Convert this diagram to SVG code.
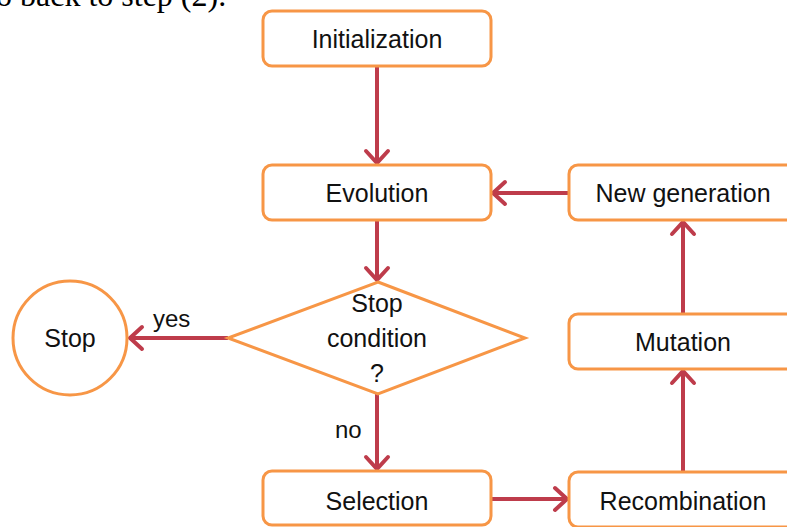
<svg xmlns="http://www.w3.org/2000/svg" width="787" height="527" viewBox="0 0 787 527">
  <style>
    .box { fill: #ffffff; stroke: #F79646; stroke-width: 3; }
    .lbl { font-family: "Liberation Sans", Arial, sans-serif; font-size: 25px; fill: #111111; text-anchor: middle; }
    .note { font-family: "Liberation Sans", Arial, sans-serif; font-size: 24px; fill: #111111; }
    .edge { fill: none; stroke: #BE3C4B; stroke-width: 4; }
    .page { font-family: "Liberation Serif", "Times New Roman", serif; font-size: 32px; fill: #000000; }
  </style>
  <defs>
    <marker id="arrow" markerUnits="userSpaceOnUse" viewBox="-16 -14 20 28" markerWidth="20" markerHeight="28" refX="0" refY="0" orient="auto">
      <path d="M-13,-11 L-1,0 L-13,11" fill="none" stroke="#BE3C4B" stroke-width="4" stroke-linecap="round" stroke-linejoin="miter"/>
    </marker>
  </defs>
  <rect width="787" height="527" fill="#ffffff"/>
  <text class="page" x="-4" y="6">o back to step (2).</text>

  <g id="connectors">
    <line class="edge" x1="377" y1="66" x2="377" y2="164" marker-end="url(#arrow)"/>
    <line class="edge" x1="377" y1="221" x2="377" y2="281" marker-end="url(#arrow)"/>
    <line class="edge" x1="228" y1="338" x2="129" y2="338" marker-end="url(#arrow)"/>
    <line class="edge" x1="377" y1="394" x2="377" y2="470" marker-end="url(#arrow)"/>
    <line class="edge" x1="491" y1="499" x2="568" y2="499" marker-end="url(#arrow)"/>
    <line class="edge" x1="683" y1="472" x2="683" y2="370" marker-end="url(#arrow)"/>
    <line class="edge" x1="683" y1="313" x2="683" y2="221" marker-end="url(#arrow)"/>
    <line class="edge" x1="569" y1="193" x2="492" y2="193" marker-end="url(#arrow)"/>
    <text class="note" x="153" y="327">yes</text>
    <text class="note" x="335" y="438">no</text>
  </g>

  <g id="initialization">
    <rect class="box" x="263" y="11" width="228" height="55" rx="9"/>
    <text class="lbl" x="377" y="48">Initialization</text>
  </g>
  <g id="evolution">
    <rect class="box" x="263" y="165" width="228" height="55" rx="9"/>
    <text class="lbl" x="377" y="202">Evolution</text>
  </g>
  <g id="new-generation">
    <rect class="box" x="569" y="165" width="228" height="55" rx="9"/>
    <text class="lbl" x="683" y="202">New generation</text>
  </g>
  <g id="stop-condition">
    <polygon class="box" points="378,282 525,338 378,394 228,338"/>
    <text class="lbl" x="377" y="312">Stop</text>
    <text class="lbl" x="377" y="347">condition</text>
    <text class="lbl" x="377" y="382">?</text>
  </g>
  <g id="stop">
    <circle class="box" cx="70" cy="338" r="57"/>
    <text class="lbl" x="70" y="347">Stop</text>
  </g>
  <g id="mutation">
    <rect class="box" x="569" y="314" width="228" height="55" rx="9"/>
    <text class="lbl" x="683" y="351">Mutation</text>
  </g>
  <g id="selection">
    <rect class="box" x="263" y="471" width="228" height="54" rx="9"/>
    <text class="lbl" x="377" y="510">Selection</text>
  </g>
  <g id="recombination">
    <rect class="box" x="569" y="472" width="228" height="55" rx="9"/>
    <text class="lbl" x="683" y="510">Recombination</text>
  </g>
</svg>
